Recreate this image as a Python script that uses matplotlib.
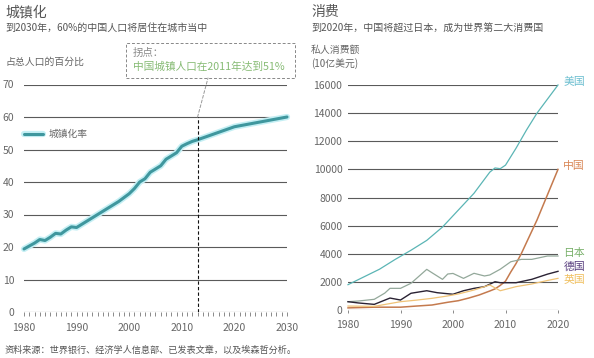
import matplotlib.pyplot as plt
import matplotlib.patheffects as pe
from matplotlib.patches import Rectangle, ConnectionPatch
from matplotlib.ticker import MultipleLocator

plt.rcParams['font.family'] = ['Noto Sans CJK SC', 'DejaVu Sans']

# left panel: urbanisation rate (%)
urban_years = [1980, 1981, 1982, 1983, 1984, 1985, 1986, 1987, 1988, 1989,
               1990, 1991, 1992, 1993, 1994, 1995, 1996, 1997, 1998, 1999,
               2000, 2001, 2002, 2003, 2004, 2005, 2006, 2007, 2008, 2009,
               2010, 2011, 2012, 2013, 2020, 2030]
urban_rate = [19.4, 20.3, 21.2, 22.3, 22.0, 23.0, 24.2, 24.0, 25.2, 26.2,
              26.0, 27.0, 28.0, 29.0, 30.0, 31.0, 32.0, 33.0, 34.0, 35.2,
              36.4, 38.0, 40.0, 41.0, 43.0, 44.0, 45.0, 47.0, 48.0, 49.0,
              51.0, 51.8, 52.5, 53.0, 57.0, 60.0]
turn_year = 2013

# right panel: private consumption (USD bn)
us_years = [1980, 1983, 1986, 1989, 1992, 1995, 1998, 2001, 2004, 2007,
            2008, 2009, 2010, 2012, 2014, 2016, 2018, 2020]
us_vals = [1800, 2350, 2900, 3600, 4250, 4950, 5900, 7100, 8300, 9800,
           10100, 10050, 10300, 11500, 12800, 14000, 15000, 16000]
cn_years = [1980, 1985, 1990, 1993, 1996, 1999, 2001, 2003, 2005, 2007,
            2008, 2009, 2010, 2011, 2012, 2013, 2014, 2015, 2016, 2017,
            2018, 2019, 2020]
cn_vals = [150, 200, 200, 280, 355, 550, 660, 850, 1070, 1350,
           1500, 1750, 2050, 2700, 3300, 4000, 4800, 5600, 6400, 7300,
           8200, 9100, 10000]
jp_years = [1980, 1982, 1985, 1987, 1988, 1990, 1992, 1995, 1996, 1998,
            1999, 2000, 2002, 2004, 2006, 2007, 2009, 2011, 2013, 2015,
            2018, 2020]
jp_vals = [590, 640, 760, 1200, 1540, 1540, 1900, 2890, 2650, 2180,
           2560, 2600, 2250, 2610, 2420, 2490, 2900, 3430, 3600, 3600,
           3840, 3840]
de_years = [1980, 1982, 1985, 1988, 1990, 1992, 1995, 1997, 2000, 2002,
            2004, 2006, 2008, 2009, 2012, 2015, 2018, 2020]
de_vals = [590, 500, 400, 850, 710, 1190, 1370, 1230, 1120, 1370,
           1540, 1660, 2010, 1940, 1940, 2180, 2550, 2750]
uk_years = [1980, 1985, 1990, 1993, 1996, 1999, 2001, 2004, 2007, 2009,
            2012, 2015, 2018, 2020]
uk_vals = [280, 260, 590, 700, 830, 1000, 1140, 1420, 1780, 1370,
           1660, 1850, 2100, 2250]

countries = ['美国', '中国', '日本', '德国', '英国']
line_colors = ['#5bb5b5', '#c47a4e', '#93a89a', '#2a2233', '#efc276']
label_colors = ['#6cbfd0', '#d98858', '#79b06a', '#5a4080', '#f0c060']
label_y = [16250, 10250, 4050, 3060, 2130]

grid_c = '#5a5a5a'
text_c = '#666666'

fig = plt.figure(figsize=(5.94, 3.58), dpi=100)
W, H = 594, 358


def fx(px):
    return px / W


def fy(py):
    return 1 - py / H


# ---------- left ----------
ax1 = fig.add_axes([fx(24), fy(312), fx(263), 227.5 / H])
ax1.set_xlim(1980, 2030)
ax1.set_ylim(0, 70)
for s in ax1.spines.values():
    s.set_visible(False)
ax1.set_yticks(range(0, 80, 10))
ax1.yaxis.grid(True, color=grid_c, lw=0.8)
ax1.set_axisbelow(True)
ax1.tick_params(axis='y', length=0, pad=7, labelsize=7.5, labelcolor=text_c)
ax1.set_xticks(range(1980, 2031, 10))
ax1.xaxis.set_minor_locator(MultipleLocator(1))
ax1.tick_params(axis='x', which='both', length=3, width=0.6, color='#777777',
                pad=5, labelsize=7.5, labelcolor=text_c)
ax1.plot(urban_years, urban_rate, color='#3f979e', lw=2.2, label='城镇化率',
         solid_capstyle='round', clip_on=False,
         path_effects=[pe.Stroke(linewidth=4.5, foreground='#c4eff4'), pe.Normal()])
ax1.plot([turn_year, turn_year], [0, 60], color='#111111', lw=0.8,
         ls=(0, (3, 2)))
leg = ax1.legend(loc='center left', bbox_to_anchor=(0, 0.782), frameon=False,
                 borderaxespad=0, borderpad=0, handlelength=2.0,
                 handletextpad=0.5, fontsize=7)
for t in leg.get_texts():
    t.set_color(text_c)

fig.text(fx(5), fy(12), '城镇化', fontsize=10, color='#555555', va='center')
fig.text(fx(5), fy(28), '到2030年，60%的中国人口将居住在城市当中', fontsize=7.2,
         color='#555555', va='center')
fig.text(fx(5), fy(62), '占总人口的百分比', fontsize=7.1, color=text_c,
         va='center')

box = Rectangle((fx(126), fy(78)), fx(169), 35 / H, transform=fig.transFigure,
                fill=False, ec='#888888', lw=0.7, ls=(0, (3, 2)))
fig.add_artist(box)
fig.text(fx(133), fy(53), '拐点：', fontsize=7.5, color='#888888', va='center')
fig.text(fx(133), fy(67), '中国城镇人口在2011年达到51%', fontsize=7.7,
         color='#86bb74', va='center')
con = ConnectionPatch(xyA=(turn_year, 60), coordsA=ax1.transData,
                      xyB=(fx(208), fy(78)), coordsB=fig.transFigure,
                      color='#999999', lw=0.7, ls=(0, (3, 2)))
fig.add_artist(con)

fig.text(fx(5), fy(350), '资料来源：世界银行、经济学人信息部、已发表文章，以及埃森哲分析。',
         fontsize=6.6, color='#555555', va='center')

# ---------- right ----------
ax2 = fig.add_axes([fx(348), fy(310), fx(210), 225 / H])
ax2.set_xlim(1980, 2020)
ax2.set_ylim(0, 16000)
for s in ax2.spines.values():
    s.set_visible(False)
ax2.set_yticks(range(0, 16001, 2000))
ax2.yaxis.grid(True, color=grid_c, lw=0.8)
ax2.set_axisbelow(True)
ax2.tick_params(axis='y', length=0, pad=4, labelsize=7.5, labelcolor=text_c)
ax2.set_xticks(range(1980, 2021, 10))
ax2.tick_params(axis='x', length=2, width=0.6, color='#777777', pad=5,
                labelsize=7.5, labelcolor=text_c)

series = [(us_years, us_vals), (cn_years, cn_vals), (jp_years, jp_vals),
          (de_years, de_vals), (uk_years, uk_vals)]
widths = [0.9, 1.1, 0.9, 1.0, 0.9]
for (xs, ys), c, lw in zip(series, line_colors, widths):
    ax2.plot(xs, ys, color=c, lw=lw, clip_on=False)
for name, c, yv in zip(countries, label_colors, label_y):
    ax2.text(1.025, yv, name, color=c, fontsize=7.8, va='center',
             transform=ax2.get_yaxis_transform())

fig.text(fx(311), fy(12), '消费', fontsize=10, color='#555555', va='center')
fig.text(fx(311), fy(28), '到2020年，中国将超过日本，成为世界第二大消费国',
         fontsize=7.2, color='#555555', va='center')
fig.text(fx(311), fy(50), '私人消费额', fontsize=7.1, color=text_c, va='center')
fig.text(fx(311), fy(64), '(10亿美元)', fontsize=7.1, color=text_c, va='center')

fig.savefig('out.png', dpi=100, facecolor='white')
